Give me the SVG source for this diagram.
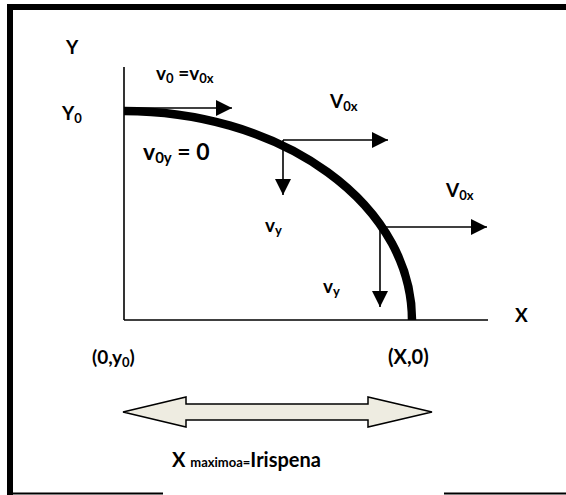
<svg xmlns="http://www.w3.org/2000/svg" width="566" height="495" viewBox="0 0 566 495">
<style>
text{font-family:Lato,"Liberation Sans",sans-serif;font-weight:bold;fill:#000;font-size:19px}
.sub{font-size:13px}
.thin{stroke:#000;stroke-width:1.6;fill:none}
</style>
<defs>
<marker id="ah" markerUnits="userSpaceOnUse" markerWidth="16" markerHeight="16" refX="16" refY="8" orient="auto">
<path d="M0,0 L16,8 L0,16 z" fill="#000"/>
</marker>
</defs>
<rect width="566" height="495" fill="#fff"/>
<g id="frame">
<line x1="7" y1="7" x2="566" y2="7" stroke="#000" stroke-width="6"/>
<line x1="10" y1="4" x2="10" y2="495" stroke="#000" stroke-width="6"/>
<line x1="7" y1="493.5" x2="163" y2="493.5" stroke="#000" stroke-width="2"/>
<line x1="444" y1="493.5" x2="566" y2="493.5" stroke="#000" stroke-width="2"/>
</g>
<g id="axes">
<line class="thin" x1="124" y1="67" x2="124" y2="320"/>
<line class="thin" x1="124" y1="320" x2="488" y2="320"/>
</g>
<g id="trajectory">
<path d="M124,111 A288,209 0 0 1 412,320" fill="none" stroke="#000" stroke-width="8.5"/>
</g>
<g id="connectors">
<line class="thin" x1="124" y1="108" x2="232" y2="108" marker-end="url(#ah)"/>
<line class="thin" x1="283" y1="140" x2="388" y2="140" marker-end="url(#ah)"/>
<line class="thin" x1="283" y1="140" x2="283" y2="195" marker-end="url(#ah)"/>
<line class="thin" x1="380" y1="227" x2="487" y2="227" marker-end="url(#ah)"/>
<line class="thin" x1="380" y1="227" x2="380" y2="307" marker-end="url(#ah)"/>
</g>
<g id="range-arrow">
<polygon points="123,412 186,397 186,404 368,404 368,397 432,412 368,427 368,420 186,420 186,427" fill="#EEECE1" stroke="#000" stroke-width="1.5"/>
</g>
<g id="labels">
<text id="lY" x="66" y="54">Y</text>
<text id="lY0" x="62" y="120">Y<tspan class="sub" dy="3">0</tspan></text>
<text id="lv0" x="156" y="80">v<tspan class="sub" dy="3">0</tspan><tspan dy="-3"> =v</tspan><tspan class="sub" dy="3">0x</tspan></text>
<text id="lv0y" x="143" y="160" style="font-size:23px">v<tspan class="sub" dy="3" style="font-size:15px">0y</tspan><tspan dy="-3"> = 0</tspan></text>
<text id="lV0x1" x="330" y="108">V<tspan class="sub" dy="3">0x</tspan></text>
<text id="lV0x2" x="446" y="197">V<tspan class="sub" dy="3">0x</tspan></text>
<text id="lvy1" x="265" y="232">v<tspan class="sub" dy="3">y</tspan></text>
<text id="lvy2" x="323" y="293">v<tspan class="sub" dy="3">y</tspan></text>
<text id="lX" x="515" y="322">X</text>
<text id="lorig" x="92" y="364">(0,y<tspan class="sub" dy="3">0</tspan><tspan dy="-3">)</tspan></text>
<text id="lend" x="388" y="364" style="font-size:20px">(X,0)</text>
<text id="lrange" x="172" y="467" style="font-size:20px">X <tspan class="sub">maximoa=</tspan>Irispena</text>
</g>
</svg>
